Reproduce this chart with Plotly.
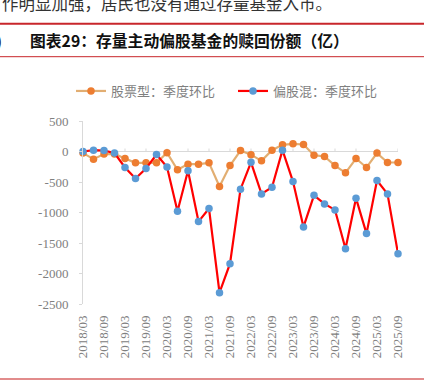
import plotly.graph_objects as go

quarters = ['2018/03', '2018/06', '2018/09', '2018/12',
            '2019/03', '2019/06', '2019/09', '2019/12',
            '2020/03', '2020/06', '2020/09', '2020/12',
            '2021/03', '2021/06', '2021/09', '2021/12',
            '2022/03', '2022/06', '2022/09', '2022/12',
            '2023/03', '2023/06', '2023/09', '2023/12',
            '2024/03', '2024/06', '2024/09', '2024/12',
            '2025/03', '2025/06', '2025/09']
stock_qoq = [-26, -125, -43, -40, -115, -186, -186, -186, -21, -300, -207, -207,
             -186, -574, -230, 16, -52, -153, 22, 110, 126, 115, -60, -82,
             -230, -350, -115, -262, -26, -180, -180]
hybrid_qoq = [0, 22, 16, -26, -262, -443, -279, -49, -256, -979, -317, -1149,
              -935, -2315, -1839, -618, -177, -695, -585, 22, -493, -1236, -718, -859,
              -957, -1593, -765, -1346, -476, -695, -1675]
y_ticks = [500, 0, -500, -1000, -1500, -2000, -2500]
x_ticks = quarters[::2]
series_names = ['股票型：季度环比', '偏股混：季度环比']
title_text = '图表29：存量主动偏股基金的赎回份额（亿）'
top_text = '作明显加强，居民也没有通过存量基金入市。'

W, H = 434, 383
ML, MR, MT, MB = 83, 36, 121, 79
PL, PR, PT, PB = ML, W - MR, MT, H - MB


def xp(p):
    return (p - PL) / (PR - PL)


def yp(p):
    return (PB - p) / (PB - PT)


GRAY = '#D9D9D9'
LABEL = '#808080'
SERIF = 'Liberation Serif, Times New Roman, serif'
CJK = 'Noto Sans CJK SC, sans-serif'

fig = go.Figure()
fig.add_trace(go.Scatter(
    x=quarters, y=stock_qoq, name=series_names[0], mode='lines+markers',
    line=dict(color='#E2AE72', width=2.2),
    marker=dict(color='#ED7D31', size=7.5),
    cliponaxis=False))
fig.add_trace(go.Scatter(
    x=quarters, y=hybrid_qoq, name=series_names[1], mode='lines+markers',
    line=dict(color='#FF0000', width=2.2),
    marker=dict(color='#5B9BD5', size=7.5),
    cliponaxis=False))

shapes = []
# small tick marks on the zero (category) axis
for t in x_ticks:
    i = quarters.index(t)
    shapes.append(dict(type='line', xref='x', yref='y', x0=i, x1=i,
                       ysizemode='pixel', yanchor=0, y0=0, y1=3,
                       line=dict(color=GRAY, width=1), layer='below'))
# decorative report rules
shapes.append(dict(type='line', xref='paper', yref='paper', x0=xp(0), x1=xp(424),
                   y0=yp(23.7), y1=yp(23.7), line=dict(color='#C8262B', width=2)))
shapes.append(dict(type='line', xref='paper', yref='paper', x0=xp(0), x1=xp(424),
                   y0=yp(56.7), y1=yp(56.7), line=dict(color='#C8262B', width=1)))
shapes.append(dict(type='line', xref='paper', yref='paper', x0=xp(0), x1=xp(424),
                   y0=yp(379), y1=yp(379), line=dict(color='#E28C8C', width=2)))

annotations = [
    dict(text=top_text, xref='paper', yref='paper', x=xp(0), y=yp(3),
         xanchor='left', yanchor='middle', showarrow=False,
         font=dict(family=CJK, size=16.5, color='#333333')),
    dict(text=')', xref='paper', yref='paper', x=xp(4), y=yp(41),
         xanchor='right', yanchor='middle', showarrow=False,
         font=dict(family=CJK, size=15, color='#111111')),
    dict(text='<b>' + title_text + '</b>', xref='paper', yref='paper', x=xp(28), y=yp(41),
         xanchor='left', yanchor='middle', showarrow=False,
         font=dict(family=CJK, size=15.8, color='#111111')),
]

fig.update_layout(
    template='none',
    width=W, height=H,
    margin=dict(l=ML, r=MR, t=MT, b=MB, pad=0, autoexpand=False),
    paper_bgcolor='white', plot_bgcolor='white',
    showlegend=True,
    legend=dict(orientation='h', x=xp(71), xanchor='left', y=yp(91), yanchor='middle',
                font=dict(family=CJK, size=13, color='#7F7F7F'),
                bgcolor='rgba(0,0,0,0)', itemwidth=30, tracegroupgap=0,
                entrywidth=117, entrywidthmode='pixels'),
    shapes=shapes,
    annotations=annotations,
    xaxis=dict(type='category', range=[0, len(quarters) - 1], automargin=False,
               tickmode='array', tickvals=x_ticks, ticktext=x_ticks,
               tickangle=-90, showline=False, showgrid=False, zeroline=False,
               ticks='', ticklabelstandoff=8,
               tickfont=dict(family=SERIF, size=13, color=LABEL)),
    yaxis=dict(range=[-2500, 500], tickmode='array', tickvals=y_ticks, automargin=False,
               ticktext=[str(v) for v in y_ticks],
               showline=True, linecolor=GRAY, linewidth=1,
               ticks='outside', ticklen=3, tickcolor=GRAY,
               showgrid=False, zeroline=True, zerolinecolor=GRAY, zerolinewidth=1,
               ticklabelstandoff=8,
               tickfont=dict(family=SERIF, size=13, color=LABEL)),
)

fig.write_html('out.html', config={'displayModeBar': False},
               post_script="document.body.style.margin='0';")
